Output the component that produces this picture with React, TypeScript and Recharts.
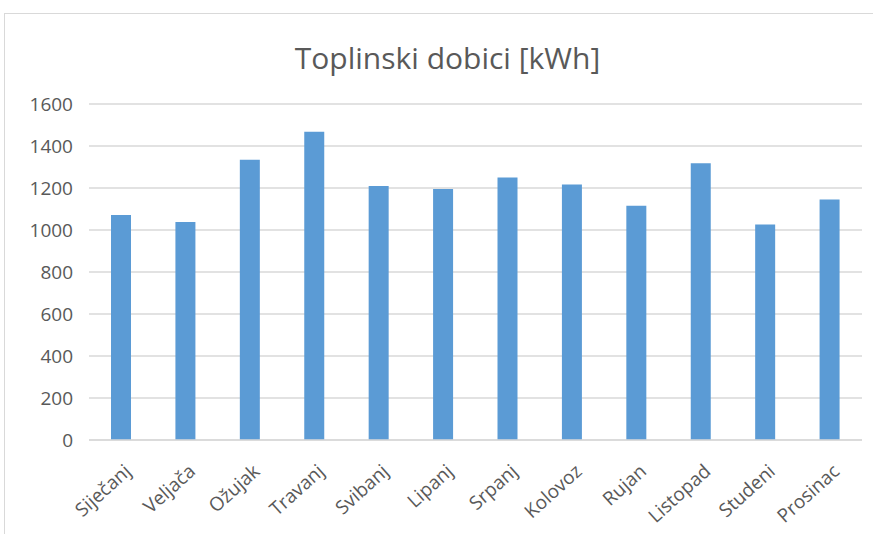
import { Bar, BarChart, CartesianGrid, XAxis, YAxis } from "recharts";

const months = [
  "Siječanj",
  "Veljača",
  "Ožujak",
  "Travanj",
  "Svibanj",
  "Lipanj",
  "Srpanj",
  "Kolovoz",
  "Rujan",
  "Listopad",
  "Studeni",
  "Prosinac",
];
const gains = [1072, 1038, 1334, 1468, 1210, 1195, 1250, 1217, 1116, 1318, 1026, 1145];
const yTicks = [0, 200, 400, 600, 800, 1000, 1200, 1400, 1600];

const data = months.map((month, i) => ({ month, gain: gains[i] }));

const FONT = "'Open Sans', 'Liberation Sans', sans-serif";
const TEXT = "#595959";

const MonthTick = ({ x, y, payload }: { x?: number; y?: number; payload?: { value: string } }) => {
  return (
    <g transform={`translate(${(x ?? 0) + 11},${(y ?? 0) + 25})`}>
      <text transform="rotate(-42)" textAnchor="end" fill={TEXT} fontSize={19} fontFamily={FONT}>
        {payload?.value}
      </text>
    </g>
  );
};

export default function App() {
  return (
    <div
      style={{
        position: "absolute",
        left: 0,
        top: 0,
        width: 873,
        height: 534,
        background: "#fff",
        overflow: "hidden",
      }}
    >
      <div
        style={{
          position: "absolute",
          left: 4,
          top: 13,
          width: 880,
          height: 540,
          border: "1px solid #d9d9d9",
        }}
      />
      <div
        style={{
          position: "absolute",
          left: 0,
          top: 37,
          width: 895,
          textAlign: "center",
          fontFamily: FONT,
          fontSize: 30,
          lineHeight: "normal",
          color: TEXT,
        }}
      >
        Toplinski dobici [kWh]
      </div>
      <div style={{ position: "absolute", left: 0, top: 0 }}>
        <BarChart
          width={873}
          height={534}
          data={data}
          margin={{ top: 104, right: 11, bottom: 0, left: 0 }}
        >
          <CartesianGrid vertical={false} stroke="#d9d9d9" strokeWidth={1.5} />
          <XAxis
            dataKey="month"
            height={94}
            stroke="#d9d9d9"
            strokeWidth={1.5}
            tickLine={false}
            interval={0}
            tick={<MonthTick />}
          />
          <YAxis
            width={89}
            domain={[0, 1600]}
            ticks={yTicks}
            axisLine={false}
            tickLine={false}
            tickMargin={10}
            tick={{ fill: TEXT, fontSize: 19, fontFamily: FONT }}
          />
          <Bar dataKey="gain" fill="#5b9bd5" barSize={20} isAnimationActive={false} />
        </BarChart>
      </div>
    </div>
  );
}
